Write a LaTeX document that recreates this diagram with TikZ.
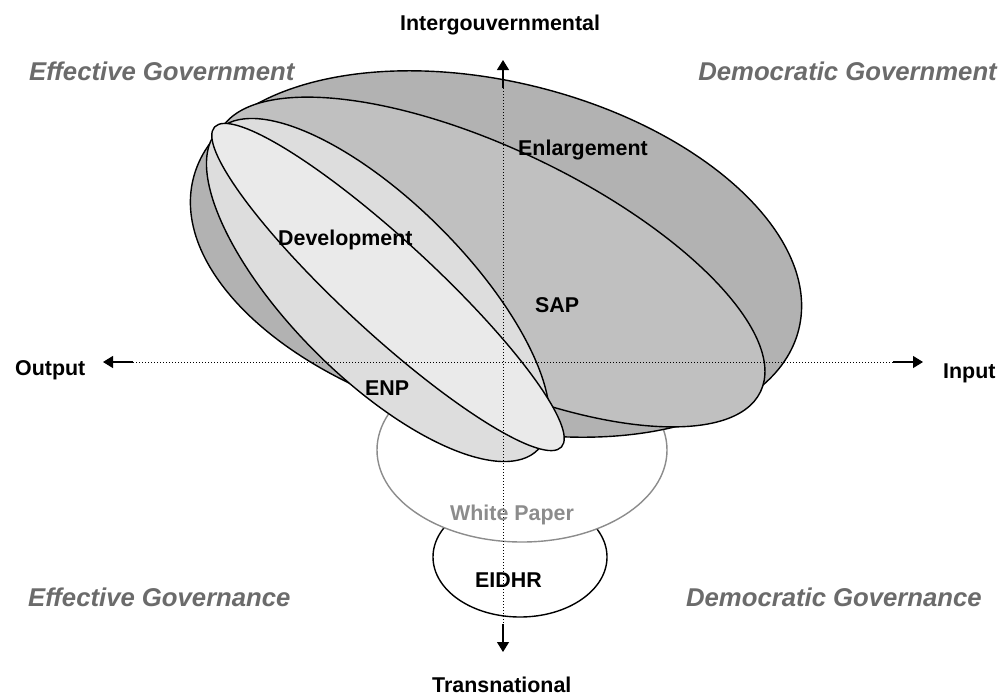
\documentclass[tikz,border=0pt]{standalone}
\usepackage{fontspec}
\setmainfont{Liberation Sans}
\usetikzlibrary{shapes.geometric,arrows.meta}
\definecolor{cEnl}{HTML}{B2B2B2}
\definecolor{cSAP}{HTML}{C0C0C0}
\definecolor{cENP}{HTML}{DDDDDD}
\definecolor{cDev}{HTML}{EAEAEA}
\definecolor{cWP}{HTML}{8C8C8C}
\definecolor{cQuad}{HTML}{6B6B6B}
\begin{document}
\begin{tikzpicture}[x=1pt,y=-1pt,
  blob/.style={ellipse,draw=black,line width=1.4pt,inner sep=0pt,outer sep=0pt},
  lbl/.style={font=\fontsize{21.4}{25}\selectfont\bfseries,inner sep=0pt,anchor=base west},
  quad/.style={font=\fontsize{25.7}{30}\selectfont\bfseries\itshape,text=cQuad,inner sep=0pt},
  axisline/.style={line width=1pt,dash pattern=on 1pt off 2pt},
  axisarrow/.style={line width=1.2pt,-{Triangle[length=10pt,width=12pt]}}]
\useasboundingbox[fill=white] (0,0) rectangle (1003,697);
% lower ellipses
\node[blob,fill=white,minimum width=174pt,minimum height=120pt] (eidhr) at (520,557) {};
\node[blob,fill=white,draw=cWP,minimum width=290pt,minimum height=184pt] (wp) at (522,450) {};
% main fan of ellipses
\node[blob,fill=cEnl,minimum width=624pt,minimum height=344pt,rotate=-14] (enl) at (496,254) {};
\node[blob,fill=cSAP,minimum width=600pt,minimum height=226pt,rotate=-25.6] (sap) at (490,262) {};
\node[blob,fill=cENP,minimum width=452pt,minimum height=176pt,rotate=-45] (enp) at (378,290) {};
\node[blob,fill=cDev,minimum width=472pt,minimum height=92pt,rotate=-42.7] (dev) at (388,287) {};
% axes
\coordinate (vt) at (503,60);
\coordinate (vt2) at (503,88);
\coordinate (vb) at (503,652);
\coordinate (vb2) at (503,624);
\coordinate (hl) at (103,362);
\coordinate (hl2) at (133,362);
\coordinate (hr) at (923,362);
\coordinate (hr2) at (893,362);
\draw[axisline] (vt2) -- (vb2);
\draw[axisline] (hl2) -- (hr2);
\draw[axisarrow] (vt2) -- (vt);
\draw[axisarrow] (vb2) -- (vb);
\draw[axisarrow] (hl2) -- (hl);
\draw[axisarrow] (hr2) -- (hr);
% axis labels
\node[lbl] (lint) at (400,30) {Intergouvernmental};
\node[lbl] (ltra) at (432,692) {Transnational};
\node[lbl] (lout) at (15,375) {Output};
\node[lbl] (linp) at (943,378) {Input};
% quadrant labels
\node[quad,anchor=base west] (qeg) at (29,80) {Effective Government};
\node[quad,anchor=base east] (qdg) at (997,80) {Democratic Government};
\node[quad,anchor=base west] (qegc) at (28,606) {Effective Governance};
\node[quad,anchor=base east] (qdgc) at (982,606) {Democratic Governance};
% ellipse labels
\node[lbl] (tenl) at (518,155) {Enlargement};
\node[lbl] (tdev) at (278,245) {Development};
\node[lbl] (tsap) at (535,312) {SAP};
\node[lbl] (tenp) at (365,395) {ENP};
\node[lbl,text=cWP] (twp) at (450,520) {White Paper};
\node[lbl] (teid) at (475,587) {EIDHR};
\end{tikzpicture}
\end{document}
